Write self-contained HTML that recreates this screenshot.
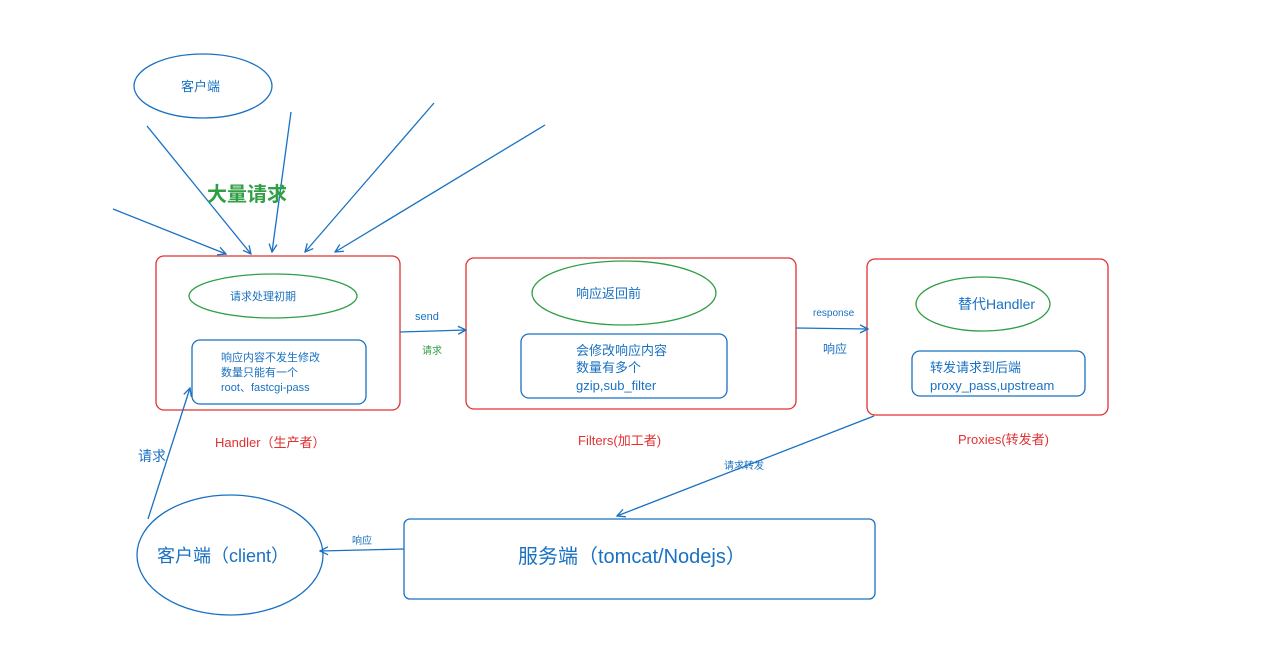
<!DOCTYPE html>
<html><head><meta charset="utf-8"><style>
body{margin:0;background:#fff;width:1278px;height:662px;overflow:hidden}
svg text{font-family:"Liberation Sans","Noto Sans CJK SC",sans-serif}
</style></head><body>
<svg width="1278" height="662" viewBox="0 0 1278 662" xmlns="http://www.w3.org/2000/svg">
<defs><marker id="a" markerWidth="10" markerHeight="10" refX="9" refY="5" orient="auto" markerUnits="userSpaceOnUse"><path d="M1,1 L9,5 L1,9" fill="none" stroke="#1971c2" stroke-width="1.3"/></marker></defs>
<g fill="none" stroke-width="1.3">
<ellipse cx="203" cy="86" rx="69" ry="32" stroke="#1971c2"/>
<rect x="156" y="256" width="244" height="154" rx="8" stroke="#e03131"/>
<rect x="466" y="258" width="330" height="151" rx="8" stroke="#e03131"/>
<rect x="867" y="259" width="241" height="156" rx="8" stroke="#e03131"/>
<ellipse cx="273" cy="296" rx="84" ry="22" stroke="#2f9e44"/>
<ellipse cx="624" cy="293" rx="92" ry="32" stroke="#2f9e44"/>
<ellipse cx="983" cy="304" rx="67" ry="27" stroke="#2f9e44"/>
<rect x="192" y="340" width="174" height="64" rx="8" stroke="#1971c2"/>
<rect x="521" y="334" width="206" height="64" rx="8" stroke="#1971c2"/>
<rect x="912" y="351" width="173" height="45" rx="8" stroke="#1971c2"/>
<rect x="404" y="519" width="471" height="80" rx="6" stroke="#1971c2"/>
<ellipse cx="230" cy="555" rx="93" ry="60" stroke="#1971c2"/>
<g stroke="#1971c2" marker-end="url(#a)">
<line x1="147" y1="126" x2="251" y2="254"/>
<line x1="291" y1="112" x2="272" y2="252"/>
<line x1="434" y1="103" x2="305" y2="252"/>
<line x1="545" y1="125" x2="335" y2="252"/>
<line x1="113" y1="209" x2="226" y2="254"/>
<line x1="400" y1="332" x2="466" y2="330"/>
<line x1="796" y1="328" x2="868" y2="329"/>
<line x1="874" y1="416" x2="617" y2="516"/>
<line x1="404" y1="549" x2="320" y2="551"/>
<line x1="148" y1="519" x2="190" y2="388"/>
</g></g>
<g font-size="12" fill="#1971c2">
<text x="181" y="91" font-size="13">客户端</text>
<text x="230" y="300" font-size="11">请求处理初期</text>
<text x="221" y="361" font-size="11">响应内容不发生修改</text>
<text x="221" y="376" font-size="11">数量只能有一个</text>
<text x="221" y="391" font-size="11">root、fastcgi-pass</text>
<text x="576" y="298" font-size="13">响应返回前</text>
<text x="576" y="355" font-size="13">会修改响应内容</text>
<text x="576" y="372" font-size="13">数量有多个</text>
<text x="576" y="390" font-size="13">gzip,sub_filter</text>
<text x="958" y="309" font-size="14">替代Handler</text>
<text x="930" y="372" font-size="13">转发请求到后端</text>
<text x="930" y="390" font-size="13">proxy_pass,upstream</text>
<text x="415" y="320" font-size="11">send</text>
<text x="813" y="316" font-size="10">response</text>
<text x="823" y="353" font-size="12">响应</text>
<text x="724" y="469" font-size="10">请求转发</text>
<text x="352" y="544" font-size="10">响应</text>
<text x="138" y="461" font-size="14">请求</text>
<text x="157" y="562" font-size="18">客户端（client）</text>
<text x="518" y="563" font-size="20">服务端（tomcat/Nodejs）</text>
</g>
<text x="207" y="201" font-size="20" fill="#2f9e44" font-weight="bold" style="font-family:'Liberation Sans','Noto Sans CJK SC',sans-serif">大量请求</text>
<text x="422" y="354" font-size="10" fill="#2f9e44">请求</text>
<g fill="#e03131" font-size="13">
<text x="215" y="447">Handler（生产者）</text>
<text x="578" y="445">Filters(加工者)</text>
<text x="958" y="444">Proxies(转发者)</text>
</g>
</svg>
</body></html>
